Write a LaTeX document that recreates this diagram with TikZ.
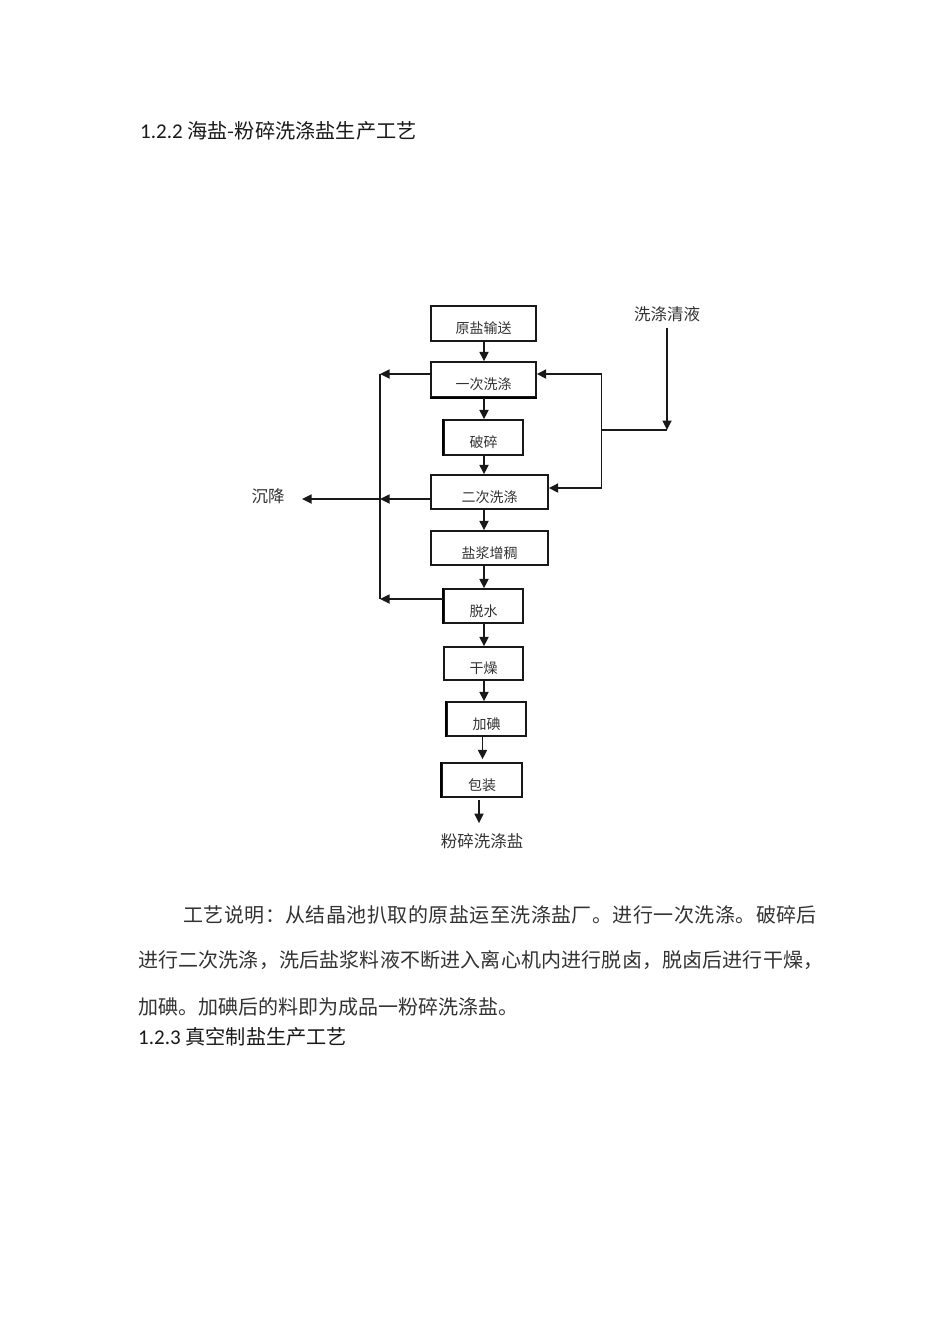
\documentclass[tikz,border=0pt]{standalone}
\usepackage{fontspec}
\setmainfont{Carlito}
\newfontfamily\cjk{Noto Sans CJK SC}
\usetikzlibrary{arrows.meta,calc}
\definecolor{txt}{HTML}{333333}
\begin{document}
\begin{tikzpicture}[x=1pt,y=-1pt,
  box/.style={draw=black!90, line width=1.4pt, inner sep=0pt, text height=20pt, text depth=0pt,
              font=\cjk\fontsize{14}{14}\selectfont, text=txt},
  arr/.style={line width=1.7pt, draw=black!90, -{Triangle[length=9.5pt,width=9pt]}},
  ln/.style={line width=1.3pt, draw=black!90},
  lbl/.style={font=\cjk\fontsize{16.5}{16.5}\selectfont, text=txt, inner sep=1pt},
  para/.style={font=\cjk\fontsize{20}{20}\selectfont, text=txt, inner sep=0pt, anchor=base west},
  head/.style={text=black!90, inner sep=0pt, anchor=base west}]
\fill[white] (0,0) rectangle (950,1344);
\useasboundingbox (0,0) rectangle (950,1344);

% headings
\node[head] (h1) at (140,138) {\fontsize{21}{21}\selectfont 1.2.2 {\cjk\fontsize{20.2}{20.2}\selectfont 海盐-粉碎洗涤盐生产工艺}};

% boxes
\node[box, minimum width=105pt, minimum height=35pt] (b1) at (483.5,323.5) {原盐输送};
\node[box, minimum width=105pt, minimum height=35pt] (b2) at (483.5,379.5) {一次洗涤};
\node[box, minimum width=79pt,  minimum height=35pt] (b3) at (483.5,437.5) {破碎};
\node[box, minimum width=117pt, minimum height=34pt] (b4) at (489.5,492) {二次洗涤};
\node[box, minimum width=117pt, minimum height=34pt] (b5) at (489.5,548) {盐浆增稠};
\node[box, minimum width=79pt,  minimum height=34pt] (b6) at (483.5,606) {脱水};
\node[box, minimum width=79pt,  minimum height=33pt] (b7) at (483.5,663.5) {干燥};
\node[box, minimum width=79pt,  minimum height=34pt] (b8) at (486.5,719) {加碘};
\node[box, minimum width=80pt,  minimum height=34pt] (b9) at (482,780) {包装};

% heavier edges seen in the scan
\draw[line width=2.2pt] (b2.south west) -- (b2.south east);
\draw[line width=2.2pt] (b3.south west) -- (b3.north west);
\draw[line width=2.2pt] (b6.south west) -- (b6.north west);
\draw[line width=2pt] (b8.south west) -- (b8.north west);
\draw[line width=2pt] (b9.south west) -- (b9.north west);

% outside labels
\node[lbl] (xq) at (667,314) {洗涤清液};
\node[lbl] (sj) at (268,496) {沉降};
\node[lbl] (out) at (482,841) {粉碎洗涤盐};

% main vertical flow
\draw[arr] (b1.south -| 484,0) -- (b2.north -| 484,0);
\draw[arr] (b2.south -| 484,0) -- (b3.north -| 484,0);
\draw[arr] (b3.south -| 484,0) -- (b4.north -| 484,0);
\draw[arr] (b4.south -| 484,0) -- (b5.north -| 484,0);
\draw[arr] (b5.south -| 484,0) -- (b6.north -| 484,0);
\draw[arr] (b6.south -| 484,0) -- (b7.north -| 484,0);
\draw[arr] (b7.south -| 484,0) -- (b8.north -| 484,0);
\draw[arr] (b8.south -| 482.5,0) -- ($(b9.north -| 482.5,0)+(0,-3)$);
\draw[arr] ($(b9.south -| 479,0)+(0,2)$) -- ($(out.north -| 479,0)+(0,-9)$);

% left return line
\coordinate (L2) at (380,374);
\coordinate (L4) at (380,499);
\coordinate (L6) at (380,599);
\coordinate (S) at (302,499);
\draw[ln] (L2) -- (L6);
\draw[arr] (b2.west |- L2) -- (L2);
\draw[arr] (b4.west |- L4) -- (L4);
\draw[arr] (b6.west |- L6) -- (L6);
\draw[arr] (L4) -- (S);

% right wash liquor line
\coordinate (R2) at (601.7,374);
\coordinate (R4) at (601.7,488);
\coordinate (RJ) at (601.7,430);
\coordinate (QJ) at (667,430);
\draw[ln] (R2) -- (R4);
\draw[ln] (RJ) -- (QJ);
\draw[arr] (R2) -- (b2.east |- R2);
\draw[arr] (R4) -- (b4.east |- R4);
\draw[arr] (xq.south) ++(0,5) -- (QJ);

% paragraph
\node[para] (p1) at (183,922.5) {\addfontfeature{LetterSpace=2.3}工艺说明：从结晶池扒取的原盐运至洗涤盐厂。进行一次洗涤。破碎后};
\node[para] (p2) at (138,967.5) {\addfontfeature{LetterSpace=0.8}进行二次洗涤，洗后盐浆料液不断进入离心机内进行脱卤，脱卤后进行干燥，};
\node[para] (p3) at (138,1014) {加碘。加碘后的料即为成品一粉碎洗涤盐。};
\node[head] (h2) at (138,1044) {\fontsize{21}{21}\selectfont 1.2.3 {\cjk\fontsize{20.2}{20.2}\selectfont 真空制盐生产工艺}};
\end{tikzpicture}
\end{document}
